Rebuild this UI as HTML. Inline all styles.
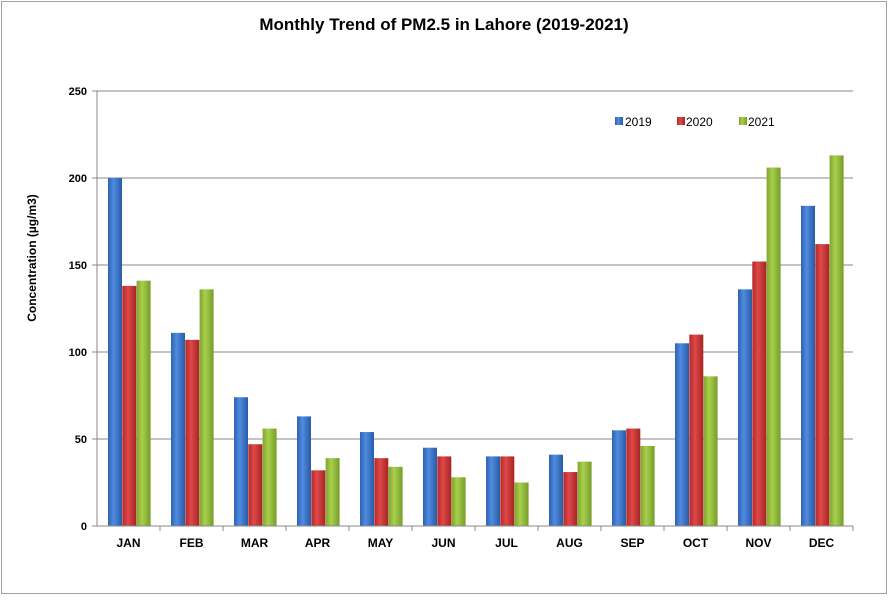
<!DOCTYPE html>
<html><head><meta charset="utf-8"><style>
body{margin:0;background:#fff;font-family:"Liberation Sans",sans-serif}
svg text{font-family:"Liberation Sans",sans-serif}
</style></head><body>
<svg width="889" height="596" xmlns="http://www.w3.org/2000/svg">
<defs>
<linearGradient id="g0" x1="0" x2="1"><stop offset="0" stop-color="#2f62b0"/><stop offset="0.4" stop-color="#4f8be0"/><stop offset="1" stop-color="#2a5aa5"/></linearGradient>
<linearGradient id="g1" x1="0" x2="1"><stop offset="0" stop-color="#b02a2a"/><stop offset="0.4" stop-color="#e04848"/><stop offset="1" stop-color="#a52525"/></linearGradient>
<linearGradient id="g2" x1="0" x2="1"><stop offset="0" stop-color="#7fa52e"/><stop offset="0.4" stop-color="#a8d04c"/><stop offset="1" stop-color="#769c28"/></linearGradient>
</defs>
<rect x="1.5" y="1.5" width="885" height="592" fill="#fff" stroke="#a0a0a0"/>
<text x="444" y="30" text-anchor="middle" font-size="17" font-weight="bold">Monthly Trend of PM2.5 in Lahore (2019-2021)</text>
<text transform="translate(36,258) rotate(-90)" text-anchor="middle" font-size="12" font-weight="bold">Concentration (µg/m3)</text>
<g id="grid"></g><g id="bars"></g><g id="axes"></g>
<g>
<rect x="615" y="117" width="8" height="8" fill="url(#g0)"/><text x="625" y="126" font-size="12">2019</text>
<rect x="677" y="117" width="8" height="8" fill="url(#g1)"/><text x="686" y="126" font-size="12">2020</text>
<rect x="739" y="117" width="8" height="8" fill="url(#g2)"/><text x="748" y="126" font-size="12">2021</text>
</g>
</svg>
<script>
const categories=["JAN","FEB","MAR","APR","MAY","JUN","JUL","AUG","SEP","OCT","NOV","DEC"];
const s2019=[200,111,74,63,54,45,40,41,55,105,136,184];
const s2020=[138,107,47,32,39,40,40,31,56,110,152,162];
const s2021=[141,136,56,39,34,28,25,37,46,86,206,213];
const yTicks=[0,50,100,150,200,250];
const NS="http://www.w3.org/2000/svg";
const x0=97,x1=853,yb=526,yt=91,ymax=250;
const y=v=>yb-(v/ymax)*(yb-yt);
const cw=(x1-x0)/categories.length;
function mk(t,a,p){const e=document.createElementNS(NS,t);for(const k in a)e.setAttribute(k,a[k]);p.appendChild(e);return e;}
const grid=document.getElementById('grid'),bars=document.getElementById('bars'),axes=document.getElementById('axes');
yTicks.forEach(v=>{
  if(v>0){const l=mk('line',{x1:x0,x2:x1,y1:y(v),y2:y(v),stroke:'#888'},grid);
  
  }
  const t=mk('text',{x:x0-10,y:y(v)+4,'text-anchor':'end','font-size':11,'font-weight':'bold'},axes);
  t.textContent=v;
  
  
  mk('line',{x1:x0-5,x2:x0,y1:y(v),y2:y(v),stroke:'#888'},axes);
});
mk('line',{x1:x0,x2:x0,y1:yt,y2:yb,stroke:'#888'},axes);
mk('line',{x1:x0,x2:x1,y1:yb,y2:yb,stroke:'#888'},axes);
const series=[s2019,s2020,s2021];
categories.forEach((c,i)=>{
  const cx=x0+i*cw;
  series.forEach((s,j)=>{
    const bx=cx+11+j*14.3,by=y(s[i]);
    const r=mk('rect',{x:bx,y:by,width:14,height:yb-by,fill:`url(#g${j})`},bars);
    
    
  });
  const t=mk('text',{x:cx+cw/2,y:547,'text-anchor':'middle','font-size':12,'font-weight':'bold'},axes);
  t.textContent=c;
  
  
  mk('line',{x1:cx+cw,x2:cx+cw,y1:yb,y2:yb+5,stroke:'#888'},axes);
});
</script>
</body></html>
